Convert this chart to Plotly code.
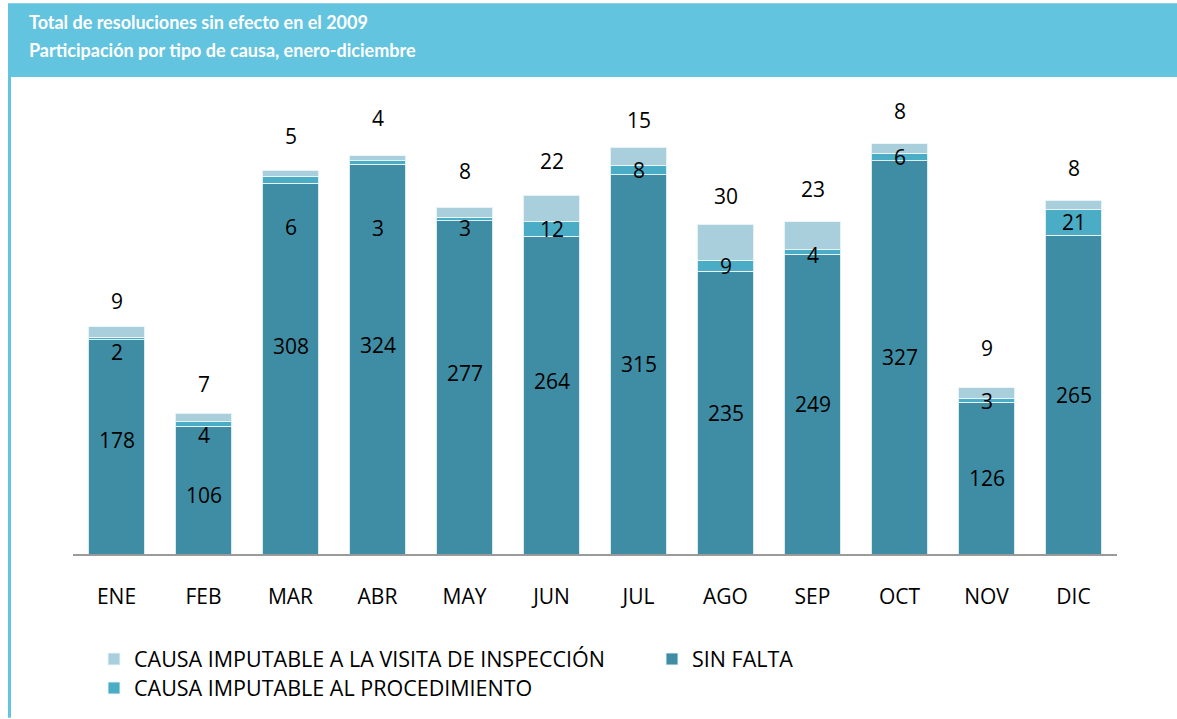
import plotly.graph_objects as go

months = ["ENE", "FEB", "MAR", "ABR", "MAY", "JUN", "JUL", "AGO", "SEP", "OCT", "NOV", "DIC"]
sin_falta = [178, 106, 308, 324, 277, 264, 315, 235, 249, 327, 126, 265]
procedimiento = [2, 4, 6, 3, 3, 12, 8, 9, 4, 6, 3, 21]
inspeccion = [9, 7, 5, 4, 8, 22, 15, 30, 23, 8, 9, 8]

name_insp = "CAUSA IMPUTABLE A LA VISITA DE INSPECCIÓN"
name_sf = "SIN FALTA"
name_proc = "CAUSA IMPUTABLE AL PROCEDIMIENTO"

# label placement tweaks (pixels, positive = up), mimic original label layout
sf_label_shift = [7, -5, 23, 14, 14, 14, 0, 0, 0, 0, 0, 0]
proc_label_shift = [-13, -11, -47, -66, -9, 0, 0, 0, -3, 0, 0, 0]
top_label_shift = [26, 29, 34, 38, 36, 34, 27, 28, 33, 33, 40, 32]

C_SF = "#3F8DA4"
C_PROC = "#4BACC6"
C_INSP = "#A9CFDD"
C_HEAD = "#63C4E0"
FONT = "Open Sans, Noto Sans, sans-serif"

edge = dict(color="rgba(235,245,248,0.9)", width=1)

fig = go.Figure()
fig.add_trace(go.Bar(
    x=months, y=sin_falta, name=name_sf, marker=dict(color=C_SF, line=edge),
    legend="legend2",
))
fig.add_trace(go.Bar(
    x=months, y=procedimiento, name=name_proc, marker=dict(color=C_PROC, line=edge),
    legend="legend3",
))
fig.add_trace(go.Bar(
    x=months, y=inspeccion, name=name_insp, marker=dict(color=C_INSP, line=edge),
    legend="legend",
))

lab_font = dict(family=FONT, size=21, color="black")
annotations = []
for i, m in enumerate(months):
    annotations.append(dict(
        x=m, y=sin_falta[i] / 2, xref="x", yref="y",
        text=str(sin_falta[i]), showarrow=False, yshift=sf_label_shift[i],
        font=lab_font, yanchor="middle",
    ))
    annotations.append(dict(
        x=m, y=sin_falta[i] + procedimiento[i] / 2, xref="x", yref="y",
        text=str(procedimiento[i]), showarrow=False, yshift=proc_label_shift[i],
        font=lab_font, yanchor="middle",
    ))
    total = sin_falta[i] + procedimiento[i] + inspeccion[i]
    annotations.append(dict(
        x=m, y=total, xref="x", yref="y",
        text=str(inspeccion[i]), showarrow=False, yshift=top_label_shift[i],
        font=lab_font, yanchor="middle",
    ))

W, H = 1177, 719
ml, mr, mt, mb = 73, 60, 90, 164
pw, ph = W - ml - mr, H - mt - mb


def px(xp):
    return (xp - ml) / pw


def py(yp):
    return (H - mb - yp) / ph


title_lines = ["Total de resoluciones sin efecto en el 2009",
               "Participación por tipo de causa, enero-diciembre"]
title_y = [22, 50]
for t, yy in zip(title_lines, title_y):
    annotations.append(dict(
        x=px(27), y=py(yy), xref="paper", yref="paper", xanchor="left", yanchor="middle",
        text="<b>" + t + "</b>", align="left", showarrow=False,
        font=dict(family="Lato, Open Sans, sans-serif", size=18, color="white"),
    ))

shapes = [
    dict(type="rect", xref="paper", yref="paper", x0=px(8), x1=px(1177), y0=py(77), y1=py(3),
         fillcolor=C_HEAD, line=dict(width=0), layer="below"),
    dict(type="rect", xref="paper", yref="paper", x0=px(8), x1=px(11), y0=py(719), y1=py(77),
         fillcolor=C_HEAD, line=dict(width=0), layer="below"),
]

legend_font = dict(family=FONT, size=21.5, color="black")
fig.update_layout(
    width=W, height=H,
    margin=dict(l=ml, r=mr, t=mt, b=mb),
    barmode="stack", bargap=0.356,
    plot_bgcolor="white", paper_bgcolor="white",
    xaxis=dict(showline=True, linecolor="#9A9A9A", linewidth=2, ticks="",
               tickfont=dict(family=FONT, size=21, color="black"), ticklabelstandoff=23,
               showgrid=False),
    yaxis=dict(visible=False, range=[0, 385.6], showgrid=False, zeroline=False),
    showlegend=True,
    legend=dict(x=px(94), y=py(659), xanchor="left", yanchor="middle", font=legend_font,
                bgcolor="rgba(0,0,0,0)", itemwidth=30),
    legend2=dict(x=px(652), y=py(659), xanchor="left", yanchor="middle", font=legend_font,
                 bgcolor="rgba(0,0,0,0)", itemwidth=30),
    legend3=dict(x=px(94), y=py(688), xanchor="left", yanchor="middle", font=legend_font,
                 bgcolor="rgba(0,0,0,0)", itemwidth=30),
    annotations=annotations,
    shapes=shapes,
)

fig.write_html("out.html", config={"displayModeBar": False},
               post_script="document.body.style.margin='0';")
